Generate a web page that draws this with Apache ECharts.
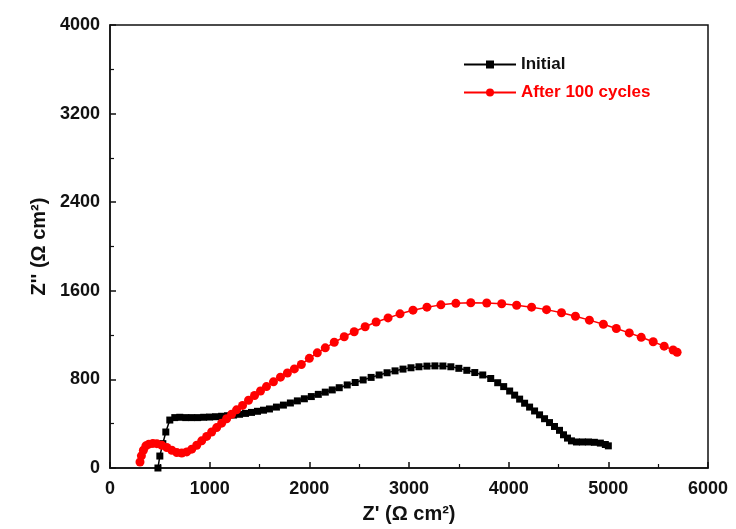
<!DOCTYPE html>
<html>
<head>
<meta charset="utf-8">
<script src="https://cdn.jsdelivr.net/npm/echarts@6/dist/echarts.min.js"></script>
<style>
html, body { margin: 0; padding: 0; background: #fff; }
#main { width: 736px; height: 529px; }
</style>
</head>
<body>
<div id="main"></div>
<script>
// Initial curve (Z', Z'')
var initX = [481, 500, 530, 560, 600, 650, 700, 760, 820, 880, 940, 1000, 1060, 1120, 1180, 1240, 1300, 1360, 1420, 1480, 1540, 1600, 1670, 1740, 1810, 1880, 1950, 2020, 2090, 2160, 2230, 2300, 2380, 2460, 2540, 2620, 2700, 2780, 2860, 2940, 3020, 3100, 3180, 3260, 3340, 3420, 3500, 3580, 3660, 3740, 3820, 3890, 3950, 4010, 4060, 4110, 4160, 4210, 4260, 4310, 4360, 4410, 4460, 4510, 4550, 4590, 4630, 4680, 4740, 4800, 4860, 4920, 4970, 5000]
var initY = [0, 108, 220, 325, 433, 455, 458, 455, 455, 455, 458, 460, 463, 467, 472, 478, 485, 493, 502, 512, 522, 533, 550, 568, 587, 606, 625, 645, 665, 685, 705, 725, 750, 772, 795, 818, 840, 860, 877, 893, 905, 914, 920, 922, 921, 914, 900, 882, 862, 840, 808, 770, 735, 695, 658, 622, 585, 550, 515, 480, 445, 410, 375, 340, 300, 270, 245, 235, 235, 235, 232, 225, 212, 200]

// After 100 cycles
var cycX = [301, 315, 335, 360, 390, 430, 470, 520, 570, 620, 670, 720, 770, 820, 870, 920, 970, 1020, 1070, 1120, 1170, 1220, 1270, 1330, 1390, 1450, 1510, 1570, 1640, 1710, 1780, 1850, 1920, 2000, 2080, 2160, 2250, 2350, 2450, 2560, 2670, 2790, 2910, 3040, 3180, 3320, 3470, 3620, 3780, 3930, 4080, 4230, 4380, 4530, 4670, 4810, 4950, 5080, 5210, 5330, 5450, 5560, 5650, 5690]
var cycY = [54, 110, 160, 200, 215, 222, 220, 205, 185, 160, 140, 135, 145, 170, 205, 245, 285, 325, 365, 405, 445, 485, 525, 565, 612, 655, 695, 735, 778, 820, 858, 895, 935, 990, 1040, 1085, 1135, 1185, 1230, 1275, 1318, 1355, 1392, 1425, 1452, 1473, 1487, 1492, 1490, 1483, 1470, 1452, 1430, 1402, 1370, 1335, 1298, 1260, 1220, 1180, 1140, 1100, 1065, 1045]

var xTicks = [0, 1000, 2000, 3000, 4000, 5000, 6000]
var yTicks = [0, 800, 1600, 2400, 3200, 4000]

function pairs(xs, ys) {
    var out = []
    for (var i = 0; i < xs.length; i++) {
        out.push([xs[i], ys[i]])
    }
    return out
}

var chart = echarts.init(document.getElementById('main'))
var font = 'Liberation Sans, Arial, sans-serif'
var plain = function (v) { return String(v) }

var option = {
    backgroundColor: '#fff',
    animation: false,
    grid: {
        left: 110, right: 28, top: 25, bottom: 61,
        show: true, borderColor: '#111', borderWidth: 1.5
    },
    legend: {
        orient: 'vertical',
        left: 458, top: 51,
        itemWidth: 52, itemHeight: 10, itemGap: 11,
        data: [
            { name: 'Initial', textStyle: { color: '#111' } },
            { name: 'After 100 cycles', textStyle: { color: '#ff0000' } }
        ],
        textStyle: { fontFamily: font, fontWeight: 'bold', fontSize: 17 }
    },
    xAxis: {
        type: 'value', min: xTicks[0], max: xTicks[xTicks.length - 1], interval: 1000,
        name: "Z' (\u03a9 cm\u00b2)", nameLocation: 'middle', nameGap: 36,
        nameTextStyle: { fontFamily: font, fontWeight: 'bold', fontSize: 20, color: '#111' },
        axisLine: { lineStyle: { color: '#111', width: 1.5 } },
        axisTick: { inside: true, length: 6, lineStyle: { color: '#111', width: 1.5 } },
        minorTick: { show: true, splitNumber: 2, length: 4, lineStyle: { color: '#111', width: 1.2 } },
        axisLabel: { fontFamily: font, fontWeight: 'bold', fontSize: 18, color: '#111', margin: 12, formatter: plain },
        splitLine: { show: false }
    },
    yAxis: {
        type: 'value', min: yTicks[0], max: yTicks[yTicks.length - 1], interval: 800,
        name: 'Z\'\' (\u03a9 cm\u00b2)', nameLocation: 'middle', nameGap: 58, nameRotate: 90,
        nameTextStyle: { fontFamily: font, fontWeight: 'bold', fontSize: 20, color: '#111' },
        axisLine: { show: true, lineStyle: { color: '#111', width: 1.5 } },
        axisTick: { show: true, inside: true, length: 6, lineStyle: { color: '#111', width: 1.5 } },
        minorTick: { show: true, splitNumber: 2, length: 4, lineStyle: { color: '#111', width: 1.2 } },
        axisLabel: { fontFamily: font, fontWeight: 'bold', fontSize: 18, color: '#111', margin: 10, formatter: plain },
        splitLine: { show: false }
    },
    series: [
        {
            name: 'Initial', type: 'line', data: pairs(initX, initY),
            symbol: 'rect', symbolSize: 7, showAllSymbol: true,
            itemStyle: { color: '#000' },
            lineStyle: { color: '#000', width: 1.5 }
        },
        {
            name: 'After 100 cycles', type: 'line', data: pairs(cycX, cycY),
            symbol: 'circle', symbolSize: 9, showAllSymbol: true,
            itemStyle: { color: '#ff0000' },
            lineStyle: { color: '#ff0000', width: 1.5 }
        }
    ]
}
chart.setOption(option)
</script>
</body>
</html>
